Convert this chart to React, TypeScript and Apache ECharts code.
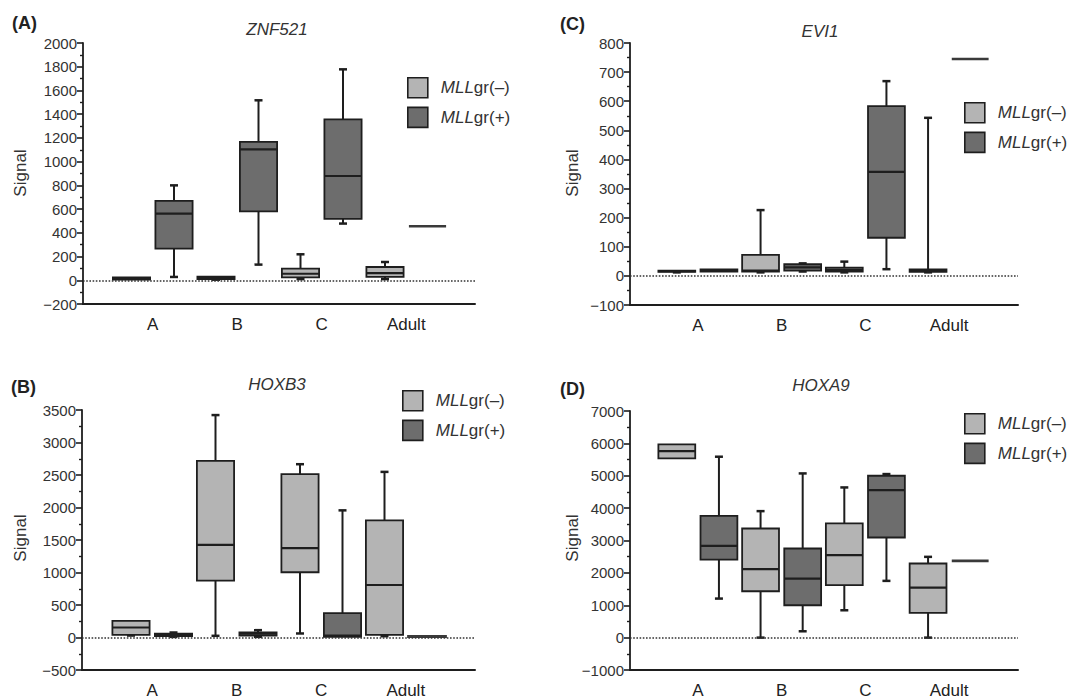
import React, { useEffect, useRef } from "react";
import * as echarts from "echarts";

const categories = ["A", "B", "C", "Adult"];
const legendNames = ["MLLgr(–)", "MLLgr(+)"];

// each row: [min, Q1, median, Q3, max] per category
const znf521Neg = [[2, 5, 12, 25, 25], [5, 10, 20, 30, 32], [10, 25, 55, 98, 219], [10, 28, 60, 112, 154]];
const znf521Pos = [[28, 267, 562, 669, 800], [132, 581, 1104, 1166, 1517], [478, 517, 879, 1357, 1778], [455, 455, 455, 455, 455]];
const evi1Neg = [[12, 14, 16, 18, 18], [12, 15, 18, 72, 226], [12, 15, 20, 28, 49], [12, 14, 17, 22, 543]];
const evi1Pos = [[14, 15, 18, 22, 22], [15, 18, 29, 40, 43], [23, 131, 357, 583, 669], [745, 745, 745, 745, 745]];
const hoxb3Neg = [[30, 41, 154, 257, 257], [26, 875, 1426, 2717, 3422], [62, 1004, 1374, 2512, 2666], [20, 41, 808, 1801, 2548]];
const hoxb3Pos = [[10, 20, 40, 60, 77], [10, 30, 60, 80, 113], [5, 10, 30, 376, 1956], [10, 12, 15, 18, 18]];
const hoxa9Neg = [[5536, 5536, 5763, 5969, 5969], [0, 1433, 2113, 3371, 3907], [845, 1619, 2546, 3526, 4639], [0, 763, 1546, 2289, 2495]];
const hoxa9Pos = [[1206, 2412, 2835, 3763, 5588], [196, 1000, 1825, 2753, 5072], [1753, 3093, 4557, 5000, 5052], [2371, 2371, 2371, 2371, 2371]];

const LIGHT = "#b4b4b4";
const DARK = "#6d6d6d";
const INK = "#1e1e1e";
const FONT = "Liberation Sans, Arial, sans-serif";

const panels = [
  { letter: "(A)", title: "ZNF521", neg: znf521Neg, pos: znf521Pos, min: -200, max: 2000, interval: 200,
    frame: { left: 83, top: 43, width: 392, height: 261 }, data: { left: 110.5, width: 338 },
    legend: { left: 402, top: 72 }, letterPos: [12, 23], titlePos: [277, 29], signalPos: [20, 173] },
  { letter: "(C)", title: "EVI1", neg: evi1Neg, pos: evi1Pos, min: -100, max: 800, interval: 100,
    frame: { left: 630, top: 43, width: 388, height: 262 }, data: { left: 656, width: 335 },
    legend: { left: 959, top: 97 }, letterPos: [560, 24], titlePos: [820, 31], signalPos: [572, 173] },
  { letter: "(B)", title: "HOXB3", neg: hoxb3Neg, pos: hoxb3Pos, min: -500, max: 3500, interval: 500,
    frame: { left: 82, top: 410, width: 393, height: 260 }, data: { left: 110, width: 338 },
    legend: { left: 397, top: 385 }, letterPos: [11, 387], titlePos: [277, 384], signalPos: [20, 538] },
  { letter: "(D)", title: "HOXA9", neg: hoxa9Neg, pos: hoxa9Pos, min: -1000, max: 7000, interval: 1000,
    frame: { left: 630, top: 411, width: 388, height: 259 }, data: { left: 656, width: 335 },
    legend: { left: 959, top: 408 }, letterPos: [560, 389], titlePos: [821, 385], signalPos: [572, 538] },
];

function makeRenderer(offsetFrac: number) {
  return (params: any, api: any) => {
    const cat = api.value(0);
    const band = api.size([1, 0])[0];
    const cx = api.coord([cat, 0])[0] + offsetFrac * band;
    const half = band * 0.22;
    const yy = (v: number) => api.coord([cat, v])[1];
    const yMin = yy(api.value(1));
    const yQ1 = yy(api.value(2));
    const yMed = yy(api.value(3));
    const yQ3 = yy(api.value(4));
    const yMax = yy(api.value(5));
    const color = api.visual("color");
    const line = { stroke: INK, lineWidth: 2 };
    const children: any[] = [];
    if (yMax < yQ3 - 0.5) {
      children.push({ type: "line", shape: { x1: cx, y1: yQ3, x2: cx, y2: yMax }, style: line });
      children.push({ type: "line", shape: { x1: cx - 4, y1: yMax, x2: cx + 4, y2: yMax }, style: { stroke: INK, lineWidth: 2.5 } });
    }
    if (yMin > yQ1 + 0.5) {
      children.push({ type: "line", shape: { x1: cx, y1: yQ1, x2: cx, y2: yMin }, style: line });
      children.push({ type: "line", shape: { x1: cx - 4, y1: yMin, x2: cx + 4, y2: yMin }, style: { stroke: INK, lineWidth: 2.5 } });
    }
    const flat = yQ1 - yQ3 < 0.5;
    children.push({
      type: "rect",
      shape: { x: cx - half, y: yQ3, width: half * 2, height: Math.max(yQ1 - yQ3, 0) },
      style: { fill: color, stroke: flat ? "#3a3a3a" : INK, lineWidth: flat ? 2.6 : 1.8 },
    });
    if (!flat) {
      children.push({ type: "line", shape: { x1: cx - half, y1: yMed, x2: cx + half, y2: yMed }, style: { stroke: INK, lineWidth: 2.2 } });
    }
    return { type: "group", children };
  };
}

const toRows = (rows: number[][]) => rows.map((r, i) => [i, ...r]);

function buildOption() {
  const grid: any[] = [];
  const xAxis: any[] = [];
  const yAxis: any[] = [];
  const series: any[] = [];
  const legend: any[] = [];
  const graphic: any[] = [];

  panels.forEach((p, i) => {
    const fi = i * 2;
    const di = i * 2 + 1;
    grid.push({ left: p.frame.left, top: p.frame.top, width: p.frame.width, height: p.frame.height, containLabel: false });
    grid.push({ left: p.data.left, top: p.frame.top, width: p.data.width, height: p.frame.height, containLabel: false });

    xAxis.push({
      type: "value", gridIndex: fi, min: 0, max: 1,
      axisLine: { show: true, onZero: false, lineStyle: { color: INK, width: 2 } },
      axisTick: { show: false }, axisLabel: { show: false }, splitLine: { show: false },
    });
    xAxis.push({
      type: "category", gridIndex: di, data: categories,
      axisLine: { show: false }, axisTick: { show: false }, splitLine: { show: false },
      axisLabel: { fontSize: 17, color: "#222", fontFamily: FONT, margin: 12 },
    });
    yAxis.push({
      type: "value", gridIndex: fi, min: p.min, max: p.max, interval: p.interval,
      axisLine: { show: true, onZero: false, lineStyle: { color: INK, width: 1.8 } },
      axisTick: { show: true, length: 6, lineStyle: { color: INK, width: 1.6 } },
      minorTick: { show: true, splitNumber: 2, length: 3, lineStyle: { color: INK, width: 1.4 } },
      splitLine: { show: false },
      axisLabel: {
        fontSize: 15, color: "#333", fontFamily: FONT, margin: 6,
        formatter: (v: number) => String(v).replace("-", "−"),
      },
    });
    yAxis.push({ type: "value", gridIndex: di, min: p.min, max: p.max, interval: p.interval, show: false });

    series.push({
      type: "line", xAxisIndex: fi, yAxisIndex: fi, data: [], silent: true,
      markLine: {
        silent: true, symbol: ["none", "none"], label: { show: false },
        lineStyle: { type: "dotted", color: "#333", width: 1.6 },
        data: [{ yAxis: 0 }],
      },
    });
    series.push({
      type: "custom", name: legendNames[0], xAxisIndex: di, yAxisIndex: di,
      itemStyle: { color: LIGHT }, renderItem: makeRenderer(-0.2515),
      encode: { x: 0, y: [1, 2, 3, 4, 5] }, data: toRows(p.neg), z: 3,
    });
    series.push({
      type: "custom", name: legendNames[1], xAxisIndex: di, yAxisIndex: di,
      itemStyle: { color: DARK }, renderItem: makeRenderer(0.2515),
      encode: { x: 0, y: [1, 2, 3, 4, 5] }, data: toRows(p.pos), z: 3,
    });

    legend.push({
      left: p.legend.left, top: p.legend.top, orient: "vertical", data: legendNames,
      icon: "rect", itemWidth: 20, itemHeight: 20, itemGap: 8, selectedMode: false,
      itemStyle: { borderColor: INK, borderWidth: 1.6 },
      formatter: (name: string) => "{i|MLL}" + name.slice(3),
      textStyle: {
        fontSize: 17, color: "#333", fontFamily: FONT, padding: [0, 0, 0, 8],
        rich: { i: { fontStyle: "italic", fontSize: 17, color: "#333", fontFamily: FONT } },
      },
    });

    graphic.push({
      type: "text", x: p.letterPos[0], y: p.letterPos[1],
      style: { text: p.letter, fontSize: 18, fontWeight: "bold", fill: "#222", fontFamily: FONT, align: "left", verticalAlign: "middle" },
    });
    graphic.push({
      type: "text", x: p.titlePos[0], y: p.titlePos[1],
      style: { text: p.title, fontSize: 17, fontStyle: "italic", fill: "#333", fontFamily: FONT, align: "center", verticalAlign: "middle" },
    });
    graphic.push({
      type: "text", x: p.signalPos[0], y: p.signalPos[1], rotation: Math.PI / 2,
      style: { text: "Signal", fontSize: 17, fill: "#333", fontFamily: FONT, align: "center", verticalAlign: "middle" },
    });
  });

  return { animation: false, backgroundColor: "#ffffff", grid, xAxis, yAxis, series, legend, graphic };
}

export default function App() {
  const ref = useRef<HTMLDivElement>(null);
  useEffect(() => {
    if (!ref.current) return;
    const chart = echarts.init(ref.current, undefined, { renderer: "svg" });
    chart.setOption(buildOption() as any);
    return () => chart.dispose();
  }, []);
  return <div ref={ref} style={{ position: "absolute", left: 0, top: 0, width: 1086, height: 700 }} />;
}
